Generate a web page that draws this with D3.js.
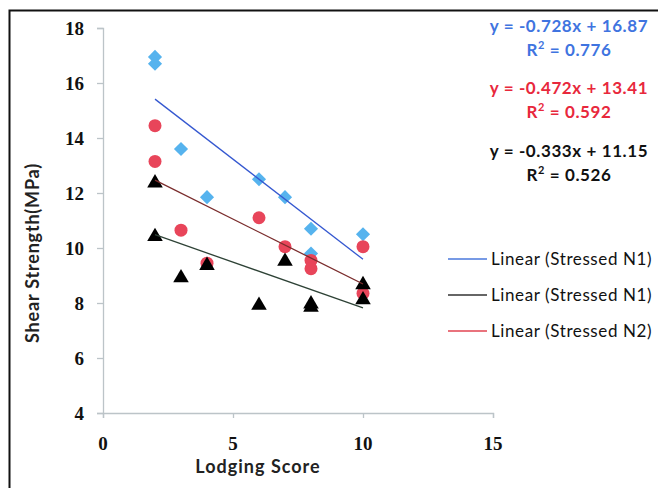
<!DOCTYPE html>
<html>
<head>
<meta charset="utf-8">
<script src="https://cdn.jsdelivr.net/npm/d3@7"></script>
<style>
    body { margin: 0; background: #fff; }
    svg { display: block; }
    .tick-lab { font-family: "Liberation Serif", serif; font-weight: bold; font-size: 19px; fill: #111; }
    .ax-title { font-family: "Lato", "Open Sans", sans-serif; font-weight: bold; font-size: 18px; fill: #222; }
    .eq { font-family: "Lato", sans-serif; font-weight: bold; font-size: 17px; letter-spacing: 0.6px; }
    .leg { font-family: "Lato", sans-serif; font-size: 17px; letter-spacing: 0.6px; fill: #111; }
</style>
</head>
<body>
<svg width="658" height="488"></svg>
<script>
// Chart data
var blueX = [2, 2, 3, 4, 6, 7, 8, 8, 10];
var blueY = [16.95, 16.7, 13.6, 11.85, 12.5, 11.85, 10.7, 9.8, 10.5];

var redX = [2, 2, 3, 4, 6, 7, 8, 8, 10, 10];
var redY = [14.45, 13.15, 10.65, 9.45, 11.1, 10.05, 9.55, 9.25, 10.05, 8.35];

var blackX = [2, 2, 3, 4, 6, 7, 8, 8, 10, 10];
var blackY = [12.4, 10.45, 8.95, 9.4, 7.95, 9.55, 8.0, 7.88, 8.7, 8.15];

// Trendline equations (blue, red, black)
var slopes = [-0.728, -0.472, -0.333];
var intercepts = [16.87, 13.41, 11.15];
var rSquared = [0.776, 0.592, 0.526];

var xTicks = [0, 5, 10, 15];
var yTicks = [4, 6, 8, 10, 12, 14, 16, 18];

var legendLabels = ["Linear (Stressed N1)", "Linear (Stressed N1)", "Linear (Stressed N2)"];

// Layout
var svg = d3.select("svg");
var plotLeft = 103, plotRight = 493, plotTop = 28, plotBottom = 413;

var x = d3.scaleLinear().domain([0, 15]).range([plotLeft, plotRight]);
var y = d3.scaleLinear().domain([4, 18]).range([plotBottom, plotTop]);

var axisColor = "#bcc4c8";

// Outer frame (only top and left visible in the crop)
svg.append("path")
    .attr("d", "M 9.5 488 L 9.5 10.5 L 658 10.5")
    .attr("fill", "none")
    .attr("stroke", "#111")
    .attr("stroke-width", 2);

// Axes
var yAxis = svg.append("g")
    .attr("transform", "translate(" + plotLeft + ",0)")
    .call(d3.axisLeft(y).tickValues(yTicks).tickSize(6).tickFormat(""));
var xAxis = svg.append("g")
    .attr("transform", "translate(0," + plotBottom + ")")
    .call(d3.axisBottom(x).tickValues(xTicks).tickSize(5).tickFormat(""));
[xAxis, yAxis].forEach(function (g) {
    g.select(".domain").attr("stroke", axisColor).attr("stroke-width", 1.3);
    g.selectAll(".tick line").attr("stroke", axisColor).attr("stroke-width", 1.3);
});

// Tick labels
svg.selectAll(".ylab")
    .data(yTicks)
    .enter()
    .append("text")
    .attr("class", "tick-lab")
    .attr("x", 84)
    .attr("y", function (d) { return y(d) + 6.5; })
    .attr("text-anchor", "end")
    .text(function (d) { return d; });

svg.selectAll(".xlab")
    .data(xTicks)
    .enter()
    .append("text")
    .attr("class", "tick-lab")
    .attr("x", function (d) { return x(d); })
    .attr("y", 450)
    .attr("text-anchor", "middle")
    .text(function (d) { return d; });

// Axis titles
svg.append("text")
    .attr("class", "ax-title")
    .attr("x", 258)
    .attr("y", 473)
    .attr("text-anchor", "middle")
    .style("letter-spacing", "1px")
    .text("Lodging Score");

svg.append("text")
    .attr("class", "ax-title")
    .attr("transform", "translate(39,253) rotate(-90)")
    .attr("text-anchor", "middle")
    .style("letter-spacing", "0.8px")
    .text("Shear Strength(MPa)");

// Markers: blue diamonds, red circles, black triangles
var diamond = d3.symbol().type(d3.symbolSquare).size(100);
var triangle = d3.symbol().type(d3.symbolTriangle).size(105);

svg.selectAll(".blue")
    .data(d3.zip(blueX, blueY))
    .enter()
    .append("path")
    .attr("d", diamond)
    .attr("transform", function (d) { return "translate(" + x(d[0]) + "," + y(d[1]) + ") rotate(45)"; })
    .attr("fill", "#56b3ee");

svg.selectAll(".red")
    .data(d3.zip(redX, redY))
    .enter()
    .append("circle")
    .attr("cx", function (d) { return x(d[0]); })
    .attr("cy", function (d) { return y(d[1]); })
    .attr("r", 6.5)
    .attr("fill", "#e8455a");

svg.selectAll(".black")
    .data(d3.zip(blackX, blackY))
    .enter()
    .append("path")
    .attr("d", triangle)
    .attr("transform", function (d) { return "translate(" + x(d[0]) + "," + (y(d[1]) + 1) + ")"; })
    .attr("fill", "#000");

// Trend lines from the equations over x range 2..10
var trendColors = ["#3558d0", "#7a2c2c", "#2e4236"];
var seriesX = [blueX, redX, blackX];
trendColors.forEach(function (c, i) {
    var ext = d3.extent(seriesX[i]);
    svg.append("line")
        .attr("x1", x(ext[0]))
        .attr("y1", y(slopes[i] * ext[0] + intercepts[i]))
        .attr("x2", x(ext[1]))
        .attr("y2", y(slopes[i] * ext[1] + intercepts[i]))
        .attr("stroke", c)
        .attr("stroke-width", 1.3);
});

// Equation labels
var eqColors = ["#3f74e0", "#e8283c", "#111"];
var eqBase = [32, 94, 157];
eqColors.forEach(function (c, i) {
    var cx = 569;
    svg.append("text")
        .attr("class", "eq")
        .attr("x", cx)
        .attr("y", eqBase[i])
        .attr("text-anchor", "middle")
        .attr("fill", c)
        .text("y = " + slopes[i].toFixed(3) + "x + " + intercepts[i].toFixed(2));
    var r = svg.append("text")
        .attr("class", "eq")
        .attr("x", cx)
        .attr("y", eqBase[i] + 24)
        .attr("text-anchor", "middle")
        .attr("fill", c);
    r.append("tspan").text("R");
    r.append("tspan").attr("dy", -7).attr("font-size", 11).text("2");
    r.append("tspan").attr("dy", 7).text(" = " + rSquared[i].toFixed(3));
});

// Legend
var legColors = ["#4a78dc", "#333", "#e24452"];
var legY = [259, 295, 331];
legendLabels.forEach(function (t, i) {
    svg.append("line")
        .attr("x1", 448).attr("x2", 487)
        .attr("y1", legY[i]).attr("y2", legY[i])
        .attr("stroke", legColors[i])
        .attr("stroke-width", 1.3);
    svg.append("text")
        .attr("class", "leg")
        .attr("x", 491)
        .attr("y", legY[i] + 6)
        .text(t);
});
</script>
</body>
</html>
